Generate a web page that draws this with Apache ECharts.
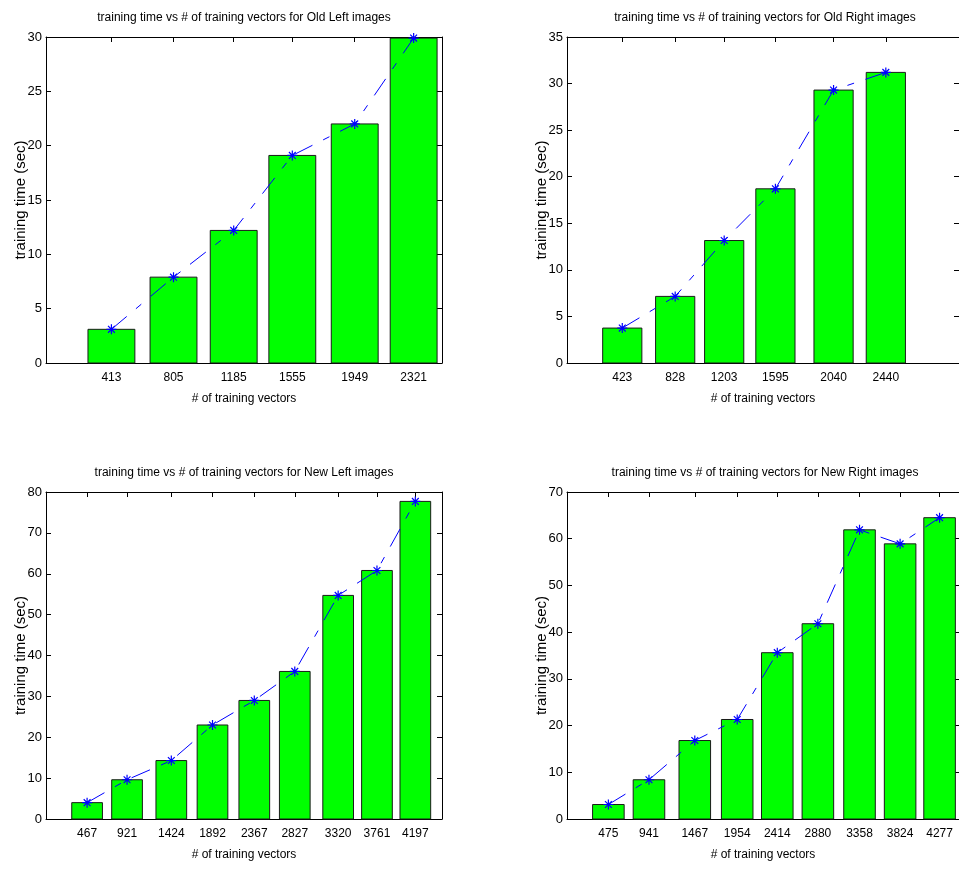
<!DOCTYPE html>
<html>
<head>
<meta charset="utf-8">
<title>training time vs # of training vectors</title>
<script src="https://cdn.jsdelivr.net/npm/echarts@6/dist/echarts.min.js"></script>
<style>
  html, body { margin: 0; padding: 0; background: #ffffff; }
  #chart { width: 959px; height: 869px; }
</style>
</head>
<body>
<div id="chart"></div>
<script>
// Number of training vectors (x) and training time in seconds (y) per image set
const oldLeftVectors = [413, 805, 1185, 1555, 1949, 2321];
const oldLeftTimes = [3.1, 7.9, 12.2, 19.1, 22.0, 29.9];

const oldRightVectors = [423, 828, 1203, 1595, 2040, 2440];
const oldRightTimes = [3.75, 7.15, 13.15, 18.7, 29.3, 31.2];

const newLeftVectors = [467, 921, 1424, 1892, 2367, 2827, 3320, 3761, 4197];
const newLeftTimes = [4.0, 9.6, 14.3, 23.0, 29.0, 36.1, 54.7, 60.8, 77.7];

const newRightVectors = [475, 941, 1467, 1954, 2414, 2880, 3358, 3824, 4277];
const newRightTimes = [3.1, 8.4, 16.8, 21.3, 35.6, 41.8, 61.9, 58.9, 64.5];

const panelTitles = [
  'training time vs # of training vectors for Old Left images',
  'training time vs # of training vectors for Old Right images',
  'training time vs # of training vectors for New Left images',
  'training time vs # of training vectors for New Right images'
];
const xAxisTitle = '# of training vectors';
const yAxisTitle = 'training time (sec)';

// Layout / axis ranges for each subplot
const panels = [
  { vectors: oldLeftVectors, times: oldLeftTimes, xMax: 2500, yMax: 30, yStep: 5, left: 46, top: 37, height: 326 },
  { vectors: oldRightVectors, times: oldRightTimes, xMax: 3000, yMax: 35, yStep: 5, left: 567, top: 37, height: 326 },
  { vectors: newLeftVectors, times: newLeftTimes, xMax: 4500, yMax: 80, yStep: 10, left: 46, top: 492, height: 327 },
  { vectors: newRightVectors, times: newRightTimes, xMax: 4500, yMax: 70, yStep: 10, left: 567, top: 492, height: 327 }
];
const GRID_WIDTH = 396;

const FONT = "'Liberation Sans', Arial, sans-serif";
const AXIS_COLOR = '#000000';
const BAR_COLOR = '#00ff00';
const LINE_COLOR = '#0000ff';
// asterisk marker (+ and x combined)
const STAR = 'path://M5,0L5,10M0,5L10,5M1.6,1.6L8.4,8.4M1.6,8.4L8.4,1.6';

const grids = [], xAxes = [], yAxes = [], series = [], titles = [];

panels.forEach((p, i) => {
  grids.push({ left: p.left, top: p.top, width: GRID_WIDTH, height: p.height });

  titles.push({
    text: panelTitles[i],
    left: p.left + GRID_WIDTH / 2,
    top: p.top - 25,
    padding: 0,
    textAlign: 'center',
    textStyle: { fontFamily: FONT, fontSize: 12, fontWeight: 'normal', color: '#000' }
  });

  // bar width: 0.8 of the smallest gap between neighbouring x values
  let minGap = Infinity;
  for (let k = 1; k < p.vectors.length; k++) minGap = Math.min(minGap, p.vectors[k] - p.vectors[k - 1]);
  const barW = 0.8 * minGap;

  const axisLine = { show: true, onZero: false, lineStyle: { color: AXIS_COLOR, width: 1 } };

  // bottom x axis with tick labels at the data values
  xAxes.push({
    type: 'value', gridIndex: i, position: 'bottom', min: 0, max: p.xMax,
    name: xAxisTitle, nameLocation: 'middle', nameGap: 30, nameMoveOverlap: false,
    nameTextStyle: { fontFamily: FONT, fontSize: 12, color: '#000' },
    axisLine,
    axisTick: { show: true, inside: true, length: 5, customValues: p.vectors, lineStyle: { color: AXIS_COLOR } },
    axisLabel: {
      show: true, customValues: p.vectors, margin: 9,
      formatter: v => String(v),
      fontFamily: FONT, fontSize: 12, color: '#000'
    },
    splitLine: { show: false }
  });
  // top x axis: box edge with inner ticks
  xAxes.push({
    type: 'value', gridIndex: i, position: 'top', min: 0, max: p.xMax,
    axisLine,
    axisTick: { show: true, inside: true, length: 5, customValues: p.vectors, lineStyle: { color: AXIS_COLOR } },
    axisLabel: { show: false },
    splitLine: { show: false }
  });
  // left y axis
  yAxes.push({
    type: 'value', gridIndex: i, position: 'left', min: 0, max: p.yMax, interval: p.yStep,
    name: yAxisTitle, nameLocation: 'middle', nameGap: 18, nameRotate: 90, nameMoveOverlap: false,
    nameTextStyle: { fontFamily: FONT, fontSize: 15, color: '#000' },
    axisLine,
    axisTick: { show: true, inside: true, length: 5, lineStyle: { color: AXIS_COLOR } },
    axisLabel: { show: true, margin: 4, fontFamily: FONT, fontSize: 13, color: '#000' },
    splitLine: { show: false }
  });
  // right y axis: box edge with inner ticks
  yAxes.push({
    type: 'value', gridIndex: i, position: 'right', min: 0, max: p.yMax, interval: p.yStep,
    axisLine,
    axisTick: { show: true, inside: true, length: 5, lineStyle: { color: AXIS_COLOR } },
    axisLabel: { show: false },
    splitLine: { show: false }
  });

  const pairs = p.vectors.map((v, k) => [v, p.times[k]]);

  // bars centred on each x value, sized through the axis scales
  series.push({
    type: 'custom',
    xAxisIndex: 2 * i, yAxisIndex: 2 * i,
    encode: { x: 0, y: 1 },
    data: pairs,
    z: 2,
    renderItem: (params, api) => {
      const x = api.value(0), y = api.value(1);
      const a = api.coord([x - barW / 2, y]);
      const b = api.coord([x + barW / 2, 0]);
      return {
        type: 'rect',
        shape: { x: a[0], y: a[1], width: b[0] - a[0], height: b[1] - a[1] },
        style: { fill: BAR_COLOR, stroke: '#1a1a1a', lineWidth: 1 }
      };
    }
  });

  // dashed trend line with asterisk markers
  series.push({
    type: 'line',
    xAxisIndex: 2 * i, yAxisIndex: 2 * i,
    data: pairs,
    z: 3,
    symbol: STAR,
    symbolSize: 10,
    showAllSymbol: true,
    itemStyle: { color: LINE_COLOR, borderColor: LINE_COLOR, borderWidth: 1.2 },
    lineStyle: { color: LINE_COLOR, width: 1, type: [20, 12, 7, 12] },
    animation: false
  });
});

const chart = echarts.init(document.getElementById('chart'), null, { renderer: 'canvas' });
chart.setOption({
  animation: false,
  backgroundColor: '#ffffff',
  title: titles,
  grid: grids,
  xAxis: xAxes,
  yAxis: yAxes,
  series
});
</script>
</body>
</html>
